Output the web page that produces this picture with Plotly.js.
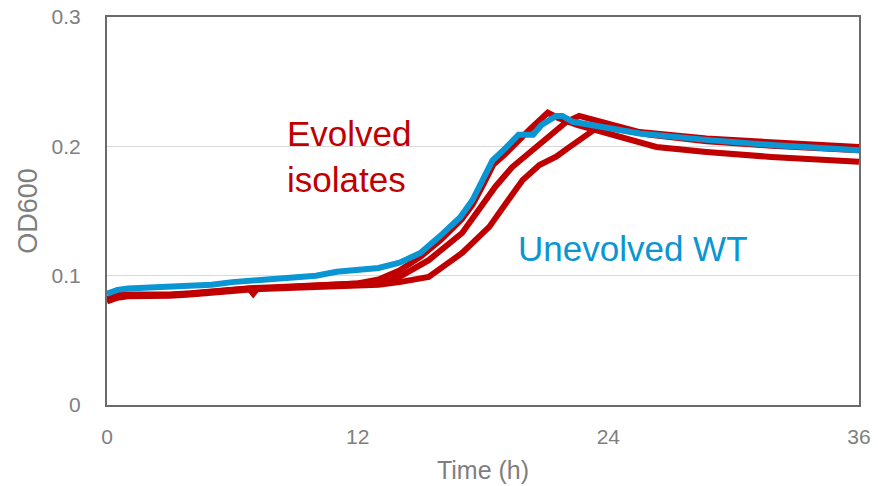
<!DOCTYPE html>
<html>
<head>
<meta charset="utf-8">
<script src="https://cdn.plot.ly/plotly-3.0.1.min.js"></script>
<style>html,body{margin:0;padding:0;background:#fff;}#chart{width:878px;height:486px;}</style>
</head>
<body>
<div id="chart"></div>
<script>
// Time (h) and OD600 values
const tWT = [0, 0.5, 1, 2, 3, 4, 5, 6, 7, 8, 9, 10, 11, 12, 13, 14, 15, 15.9, 16.9, 17.5, 18.0, 18.45, 19.1, 19.7, 20.4, 20.8, 21.5, 21.8, 22.3, 23.9, 25.5, 28.7, 31.8, 36];
const odWT = [0.086, 0.089, 0.090, 0.0905, 0.091, 0.092, 0.093, 0.095, 0.096, 0.097, 0.098, 0.100, 0.103, 0.105, 0.106, 0.110, 0.1175, 0.130, 0.145, 0.1585, 0.176, 0.189, 0.199, 0.209, 0.209, 0.2165, 0.2235, 0.2235, 0.219, 0.214, 0.210, 0.205, 0.201, 0.197];

const tEvoA = [0, 0.5, 1, 2, 3, 4, 5, 6, 6.8, 7.0, 7.2, 8, 9, 10, 11, 12, 13, 14, 15, 16, 17, 17.5, 18, 18.5, 19, 19.7, 20.3, 21.1, 21.6, 22.5, 23.5, 24.7, 26.3, 28.7, 31.8, 36];
const odEvoA = [0.081, 0.084, 0.085, 0.0845, 0.085, 0.086, 0.087, 0.089, 0.090, 0.086, 0.090, 0.0905, 0.091, 0.092, 0.093, 0.094, 0.097, 0.104, 0.1145, 0.128, 0.144, 0.155, 0.170, 0.186, 0.193, 0.205, 0.214, 0.226, 0.222, 0.2165, 0.212, 0.2065, 0.1995, 0.1957, 0.1918, 0.188];

const tEvoB = [0, 0.5, 1, 2, 3, 4, 5, 6, 7, 8, 9, 10, 11, 12, 13, 14, 15.4, 17.0, 17.8, 18.6, 19.4, 20.2, 21.0, 21.65, 22.0, 22.6, 23.2, 24, 25.5, 28.7, 31.8, 36];
const odEvoB = [0.082, 0.085, 0.0855, 0.085, 0.0855, 0.0865, 0.088, 0.0895, 0.0905, 0.091, 0.0915, 0.0925, 0.0935, 0.094, 0.095, 0.099, 0.112, 0.133, 0.151, 0.169, 0.184, 0.195, 0.205, 0.214, 0.219, 0.2235, 0.221, 0.217, 0.211, 0.206, 0.203, 0.1995];

const tEvoC = [0, 0.5, 1, 2, 3, 4, 5, 6, 7, 8, 9, 10, 11, 12, 13, 14, 15.4, 17.0, 18.3, 19.1, 19.9, 20.7, 21.5, 22.1, 22.75, 23.2, 23.6, 24.5, 26, 28.7, 31.8, 36];
const odEvoC = [0.080, 0.083, 0.084, 0.084, 0.0845, 0.0855, 0.087, 0.088, 0.0895, 0.090, 0.0905, 0.091, 0.092, 0.0925, 0.093, 0.095, 0.099, 0.1175, 0.1377, 0.156, 0.174, 0.1856, 0.192, 0.199, 0.2065, 0.2127, 0.216, 0.213, 0.209, 0.204, 0.2005, 0.197];

const xTicks = [0, 12, 24, 36];
const yTicks = [0, 0.1, 0.2, 0.3];
const labelEvolved = "Evolved<br>isolates";
const labelWT = "Unevolved WT";

const RED = "#C00000";
const BLUE = "#0A95D3";
const FONT = "'Liberation Sans Narrow', 'Arial Narrow', 'Liberation Sans', Arial, sans-serif";

const redLine = {color: RED, width: 6};
const traces = [
  {x: tEvoC, y: odEvoC, mode: "lines", line: redLine, hoverinfo: "skip"},
  {x: tEvoB, y: odEvoB, mode: "lines", line: redLine, hoverinfo: "skip"},
  {x: tEvoA, y: odEvoA, mode: "lines", line: redLine, hoverinfo: "skip"},
  {x: tWT, y: odWT, mode: "lines", line: {color: BLUE, width: 6}, hoverinfo: "skip"}
];

const layout = {
  width: 878, height: 486,
  margin: {l: 107, r: 19, t: 17, b: 81},
  paper_bgcolor: "#fff", plot_bgcolor: "#fff",
  showlegend: false,
  font: {family: FONT, color: "#7F7F7F", size: 21},
  xaxis: {
    range: [0, 36], tickvals: xTicks, ticktext: xTicks.map(String),
    showgrid: false, zeroline: false,
    showline: true, linecolor: "#6B6B6B", linewidth: 2, mirror: true,
    ticks: "", ticklabelstandoff: 12,
    tickfont: {family: FONT, size: 21, color: "#7F7F7F"},
    title: {text: "Time (h)", font: {family: FONT, size: 25, color: "#7F7F7F"}, standoff: 14}
  },
  yaxis: {
    range: [0, 0.3], tickvals: yTicks, ticktext: ["0", "0.1", "0.2", "0.3"],
    showgrid: true, gridcolor: "#D9D9D9", gridwidth: 1.5, zeroline: false,
    showline: true, linecolor: "#6B6B6B", linewidth: 2, mirror: true,
    ticks: "", ticklabelstandoff: 20,
    tickfont: {family: FONT, size: 21, color: "#7F7F7F"},
    title: {text: "OD600", font: {family: FONT, size: 27, color: "#7F7F7F"}, standoff: 6}
  },
  annotations: [
    {x: 8.5, y: 0.192, xref: "x", yref: "y", xanchor: "left", yanchor: "middle", align: "left",
     text: labelEvolved, showarrow: false, font: {family: FONT, size: 35, color: RED}},
    {x: 19.6, y: 0.1207, xref: "x", yref: "y", xanchor: "left", yanchor: "middle", align: "left",
     text: labelWT, showarrow: false, font: {family: FONT, size: 35, color: BLUE}}
  ]
};

Plotly.newPlot("chart", traces, layout, {staticPlot: true, displayModeBar: false});
</script>
</body>
</html>
